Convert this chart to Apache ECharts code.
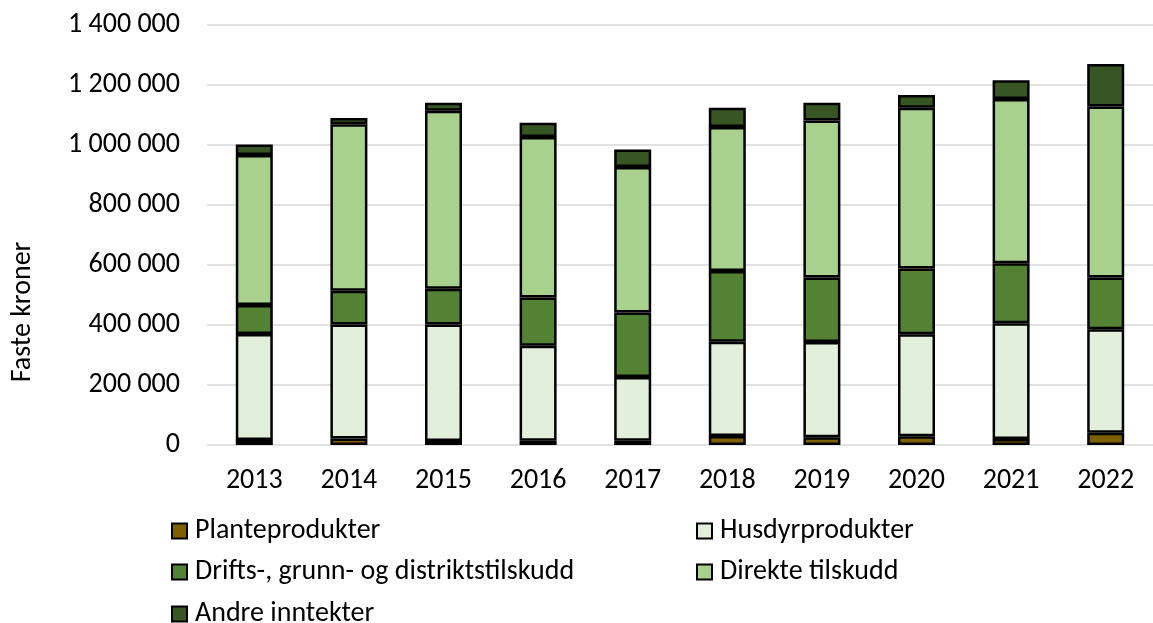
<!DOCTYPE html>
<html lang="no">

<head>
    <meta charset="UTF-8">
    <style>
        html, body { margin: 0; padding: 0; background: #fff; }
        #main { width: 1153px; height: 623px; }
    </style>
    <title>Faste kroner</title>
</head>

<body>
    <div id="main"></div>
    <script src="https://cdn.jsdelivr.net/npm/echarts@6/dist/echarts.min.js"></script>
    <script>
        var years = ['2013', '2014', '2015', '2016', '2017', '2018', '2019', '2020', '2021', '2022'];
        var planteprodukter = [17000, 22000, 13000, 14000, 14000, 30000, 26000, 29000, 20000, 41000];
        var husdyrprodukter = [353000, 380000, 389000, 317000, 213000, 314000, 317000, 340000, 386000, 345000];
        var driftstilskudd = [97000, 112000, 119000, 161000, 215000, 236000, 215000, 219000, 200000, 172000];
        var direkteTilskudd = [500000, 555000, 593000, 535000, 485000, 480000, 524000, 536000, 547000, 570000];
        var andreInntekter = [35000, 21000, 27000, 47000, 58000, 64000, 59000, 43000, 63000, 142000];

        var font = "Carlito, Calibri, 'Liberation Sans', sans-serif";
        var myChart = echarts.init(document.getElementById('main'));

        function bar(name, data, color) {
            return {
                name: name,
                type: 'bar',
                stack: 'sum',
                barWidth: 37,
                data: data,
                itemStyle: { color: color, borderColor: '#000', borderWidth: 2.5 }
            };
        }

        // tall med mellomrom som tusenskille
        function fmt(v) {
            return String(v).replace(/\B(?=(\d{3})+(?!\d))/g, ' ');
        }

        // en legende per post, plassert i to kolonner
        function legend(name, left, top) {
            return {
                left: left,
                top: top,
                itemWidth: 15,
                itemHeight: 15,
                icon: 'rect',
                textStyle: { fontFamily: font, fontSize: 28, color: '#000', lineHeight: 28, padding: [0, 0, 0, 3] },
                itemStyle: { borderColor: '#000', borderWidth: 2 },
                data: [name]
            };
        }

        var option = {
            animation: false,
            grid: { left: 207, right: -11, top: 25, bottom: 178 },
            legend: [
                legend('Planteprodukter', 166, 512),
                legend('Husdyrprodukter', 691, 512),
                legend('Drifts-, grunn- og distriktstilskudd', 166, 553),
                legend('Direkte tilskudd', 691, 553),
                legend('Andre inntekter', 166, 595)
            ],
            graphic: [{
                type: 'text',
                x: 23,
                y: 312,
                rotation: Math.PI / 2,
                style: {
                    text: 'Faste kroner',
                    fontFamily: font,
                    fontSize: 28,
                    fill: '#000',
                    align: 'center',
                    verticalAlign: 'middle'
                }
            }],
            xAxis: {
                type: 'category',
                data: years,
                axisLine: { show: false },
                axisTick: { show: false },
                axisLabel: { fontFamily: font, fontSize: 28, color: '#000', margin: 22 }
            },
            yAxis: {
                type: 'value',
                min: 0,
                max: 1400000,
                interval: 200000,
                axisLine: { show: false },
                axisTick: { show: false },
                splitLine: { lineStyle: { color: '#d9d9d9', width: 1.5 } },
                axisLabel: { fontFamily: font, fontSize: 28, color: '#000', margin: 27, formatter: fmt }
            },
            series: [
                bar('Planteprodukter', planteprodukter, '#7f6000'),
                bar('Husdyrprodukter', husdyrprodukter, '#e2efda'),
                bar('Drifts-, grunn- og distriktstilskudd', driftstilskudd, '#548235'),
                bar('Direkte tilskudd', direkteTilskudd, '#a9d18e'),
                bar('Andre inntekter', andreInntekter, '#375623')
            ]
        };

        myChart.setOption(option);
    </script>
</body>

</html>
